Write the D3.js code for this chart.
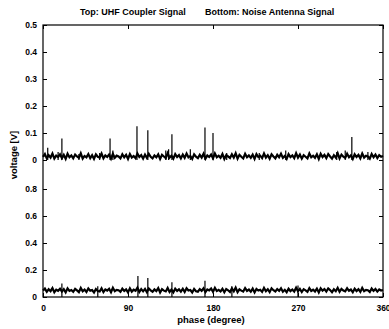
<!DOCTYPE html>
<html>
<head>
<meta charset="utf-8">
<script src="https://cdn.jsdelivr.net/npm/d3@7"></script>
<style>
  html, body { margin: 0; padding: 0; background: #fff; }
  svg { display: block; font-family: "Liberation Sans", Arial, sans-serif; }
</style>
</head>
<body>
<svg id="chart" width="389" height="329"></svg>
<script>
// Phase-resolved signal amplitudes, sampled every 2 degrees (0..360)
const phaseStep = 2;
const couplerSignal = [
  0.012,0.022,0.006,0.018,0.009,0.024,0.005,0.016,0.011,0.021,
  0.007,0.019,0.004,0.023,0.010,0.017,0.006,0.020,0.013,0.008,
  0.025,0.005,0.015,0.010,0.022,0.007,0.018,0.004,0.021,0.012,
  0.009,0.024,0.006,0.017,0.011,0.020,0.005,0.023,0.008,0.016,
  0.013,0.006,0.021,0.010,0.019,0.004,0.022,0.009,0.015,0.007,
  0.024,0.011,0.018,0.005,0.020,0.008,0.023,0.012,0.006,0.017,
  0.010,0.021,0.004,0.019,0.013,0.007,0.025,0.009,0.016,0.005,
  0.022,0.011,0.018,0.006,0.020,0.008,0.024,0.010,0.015,0.004,
  0.021,0.012,0.007,0.019,0.009,0.023,0.005,0.017,0.011,0.020,
  0.006,0.024,0.010,0.016,0.008,0.022,0.004,0.018,0.013,0.007,
  0.021,0.009,0.025,0.005,0.019,0.012,0.006,0.023,0.010,0.017,
  0.008,0.020,0.004,0.022,0.011,0.016,0.007,0.024,0.009,0.018,
  0.005,0.021,0.013,0.006,0.019,0.010,0.023,0.008,0.015,0.004,
  0.022,0.011,0.017,0.007,0.025,0.009,0.020,0.005,0.018,0.012,
  0.006,0.024,0.010,0.016,0.008,0.021,0.004,0.023,0.011,0.019,
  0.007,0.022,0.013,0.005,0.018,0.009,0.025,0.006,0.020,0.012,
  0.008,0.023,0.010,0.017,0.004,0.021,0.011,0.019,0.006,0.024,
  0.009,0.016,0.013,0.005,0.022,0.010,0.020,0.007,0.018,0.012,
  0.015
];
const antennaSignal = [
  0.048,0.062,0.038,0.057,0.043,0.066,0.035,0.054,0.046,0.061,
  0.040,0.058,0.034,0.064,0.045,0.052,0.039,0.060,0.049,0.036,
  0.067,0.042,0.055,0.037,0.063,0.047,0.051,0.033,0.059,0.044,
  0.041,0.065,0.036,0.056,0.048,0.061,0.035,0.068,0.043,0.053,
  0.050,0.038,0.062,0.045,0.057,0.034,0.064,0.040,0.054,0.046,
  0.069,0.037,0.059,0.042,0.060,0.036,0.063,0.049,0.039,0.056,
  0.044,0.066,0.033,0.058,0.047,0.041,0.067,0.038,0.055,0.035,
  0.062,0.045,0.057,0.040,0.061,0.037,0.065,0.048,0.052,0.034,
  0.060,0.043,0.039,0.058,0.046,0.064,0.036,0.056,0.049,0.063,
  0.038,0.068,0.044,0.053,0.041,0.061,0.035,0.059,0.050,0.037,
  0.063,0.042,0.070,0.036,0.057,0.047,0.040,0.066,0.045,0.055,
  0.039,0.062,0.034,0.060,0.048,0.054,0.038,0.067,0.043,0.058,
  0.036,0.064,0.050,0.041,0.059,0.046,0.065,0.039,0.053,0.035,
  0.061,0.044,0.056,0.040,0.069,0.042,0.060,0.037,0.058,0.049,
  0.038,0.066,0.045,0.054,0.041,0.062,0.034,0.064,0.047,0.059,
  0.040,0.063,0.051,0.036,0.057,0.043,0.068,0.039,0.060,0.048,
  0.042,0.065,0.046,0.055,0.035,0.061,0.044,0.058,0.038,0.067,
  0.043,0.053,0.050,0.037,0.063,0.045,0.059,0.040,0.056,0.048,
  0.052
];

// Discharge pulses: [phase in degrees, peak voltage]
const couplerPulses = [
  [5,0.045],[16,0.03],[20,0.08],[38,0.022],[60,0.026],[71,0.08],[74,0.035],
  [99.5,0.125],[111,0.11],[130,0.035],[133,0.04],[136.5,0.095],[156,0.04],
  [171.5,0.12],[180,0.1],[194.5,0.026],[229,0.026],[257,0.035],[311,0.03],
  [320,0.035],[327,0.085],[344,0.03]
];
const antennaPulses = [
  [20,0.1],[58,0.08],[100.5,0.155],[111,0.14],[136.5,0.11],[171.5,0.12],
  [200,0.08],[270,0.085]
];

const xTicks = [0, 90, 180, 270, 360];
const topTicks = [0, 0.1, 0.2, 0.3, 0.4, 0.5];
const bottomTicks = [0, 0.2, 0.4, 0.6, 0.8];

const titleTop = "Top: UHF Coupler Signal";
const titleBottom = "Bottom: Noise Antenna Signal";
const xLabel = "phase (degree)";
const yLabel = "voltage [V]";

const svg = d3.select("#chart");
const plotLeft = 43, plotRight = 383, plotTop = 25, plotBottom = 297;

const x = d3.scaleLinear().domain([0, 360]).range([plotLeft, plotRight]);
const yUpper = d3.scaleLinear().domain([0, 0.5]).range([160, plotTop]);
const yLower = d3.scaleLinear().domain([0, 1]).range([plotBottom, 162]);

const fontSize = 8.5;
const tickLen = 4;

// Traces: dense noise floor drawn as a heavy zig-zag, pulses as vertical strokes
function drawTrace(values, pulses, y) {
  const line = d3.line()
    .x((d, i) => x(i * phaseStep))
    .y(d => y(d));
  svg.append("path")
    .datum(values)
    .attr("d", line)
    .attr("fill", "none")
    .attr("stroke", "#000")
    .attr("stroke-width", 2.2)
    .attr("stroke-linejoin", "miter");
  svg.append("g").selectAll("line")
    .data(pulses)
    .join("line")
    .attr("x1", d => x(d[0])).attr("x2", d => x(d[0]))
    .attr("y1", y(0)).attr("y2", d => y(d[1]))
    .attr("stroke", "#000")
    .attr("stroke-width", 1.2);
}
drawTrace(couplerSignal, couplerPulses, yUpper);
drawTrace(antennaSignal, antennaPulses, yLower);

// Frame
svg.append("rect")
  .attr("x", plotLeft).attr("y", plotTop)
  .attr("width", plotRight - plotLeft).attr("height", plotBottom - plotTop)
  .attr("fill", "none").attr("stroke", "#000").attr("stroke-width", 1.2);

// Bottom x axis with inward ticks, plus mirrored ticks on the top edge
const gx = svg.append("g").attr("transform", `translate(0,${plotBottom})`)
  .call(d3.axisBottom(x).tickValues(xTicks).tickSize(-tickLen).tickPadding(8).tickFormat(d3.format("d")));
const gxt = svg.append("g").attr("transform", `translate(0,${plotTop})`)
  .call(d3.axisTop(x).tickValues(xTicks).tickSize(-tickLen).tickFormat(""));

// Left y axes (two stacked scales) with mirrored ticks on the right edge
function yAxes(scale, ticks) {
  const gl = svg.append("g").attr("transform", `translate(${plotLeft},0)`)
    .call(d3.axisLeft(scale).tickValues(ticks).tickSize(-tickLen).tickPadding(6).tickFormat(d3.format("")));
  const gr = svg.append("g").attr("transform", `translate(${plotRight},0)`)
    .call(d3.axisRight(scale).tickValues(ticks).tickSize(-tickLen).tickFormat(""));
  return [gl, gr];
}
const axesGroups = [gx, gxt, ...yAxes(yUpper, topTicks), ...yAxes(yLower, bottomTicks)];
axesGroups.forEach(g => {
  g.select(".domain").remove();
  g.selectAll(".tick line").attr("stroke", "#000").attr("stroke-width", 1);
  g.selectAll("text")
    .attr("fill", "#000")
    .attr("font-size", fontSize)
    .attr("font-weight", "bold")
    .attr("font-family", "'Liberation Sans', Arial, sans-serif");
});

// Title
svg.append("text").attr("x", 80).attr("y", 15)
  .attr("font-size", 9).attr("font-weight", "bold").attr("fill", "#000")
  .text(titleTop);
svg.append("text").attr("x", 205).attr("y", 15)
  .attr("font-size", 9).attr("font-weight", "bold").attr("fill", "#000")
  .text(titleBottom);

// Axis labels
svg.append("text")
  .attr("x", 211).attr("y", 323)
  .attr("text-anchor", "middle")
  .attr("font-size", 9.5).attr("font-weight", "bold").attr("fill", "#000")
  .text(xLabel);
svg.append("text")
  .attr("transform", "translate(17,155) rotate(-90)")
  .attr("text-anchor", "middle")
  .attr("font-size", 9.5).attr("font-weight", "bold").attr("fill", "#000")
  .text(yLabel);
</script>
</body>
</html>
